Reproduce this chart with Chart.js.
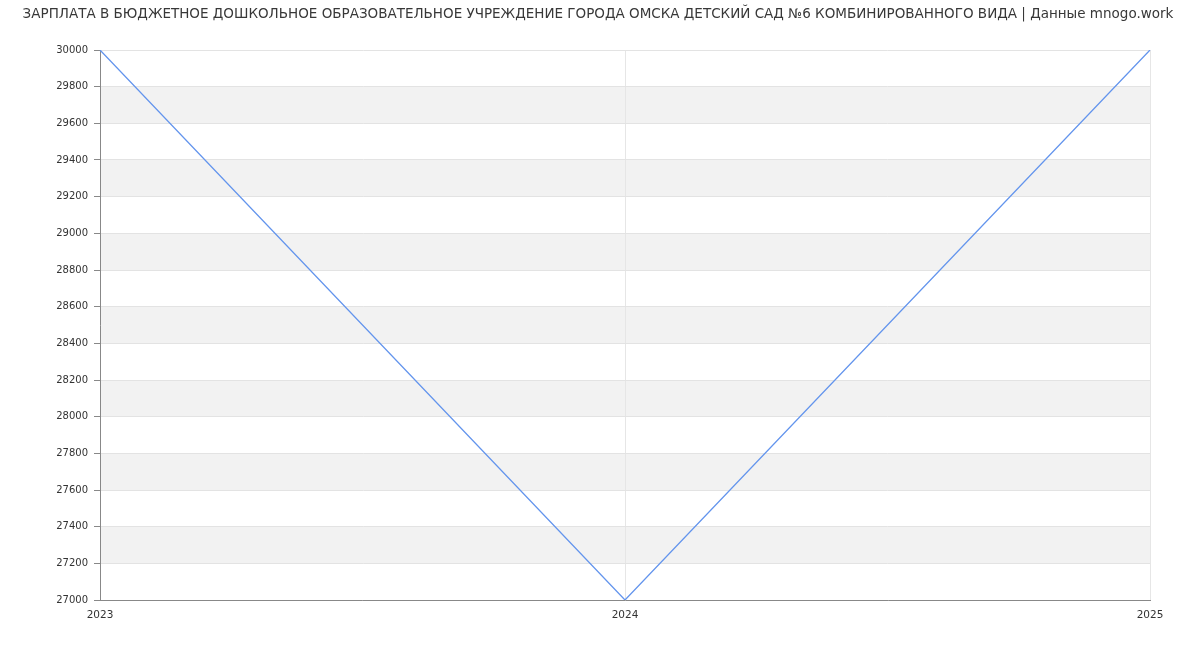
<!DOCTYPE html>
<html>
<head>
<meta charset="utf-8">
<script src="https://cdn.jsdelivr.net/npm/chart.js@4"></script>
<style>
  html, body { margin: 0; padding: 0; background: #fff; }
  #wrap { width: 1200px; height: 650px; }
</style>
</head>
<body>
<div id="wrap"><canvas id="salaryChart" width="1200" height="650"></canvas></div>
<script>
const titleText = 'ЗАРПЛАТА В БЮДЖЕТНОЕ ДОШКОЛЬНОЕ ОБРАЗОВАТЕЛЬНОЕ УЧРЕЖДЕНИЕ ГОРОДА ОМСКА ДЕТСКИЙ САД №6 КОМБИНИРОВАННОГО ВИДА | Данные mnogo.work';
const years = ['2023', '2024', '2025'];
const salaries = [30000, 27000, 30000];
const yMin = 27000;
const yMax = 30000;
const yStep = 200;

// полосы через одну + заголовок
const bandsPlugin = {
    id: 'bands',
    beforeDraw(chart) {
        const { ctx, chartArea, scales } = chart;
        ctx.save();
        ctx.fillStyle = '#f2f2f2';
        for (let v = yMin + yStep; v < yMax; v += yStep * 2) {
            const top = scales.y.getPixelForValue(v + yStep);
            const bottom = scales.y.getPixelForValue(v);
            ctx.fillRect(chartArea.left, top, chartArea.right - chartArea.left, bottom - top);
        }
        ctx.restore();
    },
    afterDraw(chart) {
        const ctx = chart.ctx;
        ctx.save();
        ctx.font = '13.5px "DejaVu Sans"';
        ctx.fillStyle = '#383838';
        ctx.textAlign = 'center';
        ctx.textBaseline = 'middle';
        ctx.fillText(titleText, 598, 14);
        ctx.restore();
    }
};

const ctx = document.getElementById('salaryChart').getContext('2d');
const salaryChart = new Chart(ctx, {
    type: 'line',
    data: {
        labels: years,
        datasets: [{
            data: salaries,
            borderColor: '#6495ed',
            borderWidth: 1.3,
            pointRadius: 0,
            tension: 0,
            fill: false
        }]
    },
    options: {
        responsive: false,
        animation: false,
        layout: { padding: { top: 50, right: 50, left: 0, bottom: 0 } },
        plugins: {
            legend: { display: false },
            tooltip: { enabled: false }
        },
        scales: {
            x: {
                offset: false,
                afterFit(scale) { scale.height = 50; },
                grid: { color: '#e6e6e6', drawTicks: false },
                border: { color: '#888' },
                ticks: {
                    color: '#333',
                    font: { family: 'DejaVu Sans', size: 10.5 },
                    padding: 9,
                    maxRotation: 0
                }
            },
            y: {
                min: yMin,
                max: yMax,
                afterFit(scale) { scale.width = 100; },
                grid: { color: '#e3e3e3', tickLength: 6, tickColor: '#888' },
                border: { color: '#888' },
                ticks: {
                    stepSize: yStep,
                    color: '#333',
                    font: { family: 'DejaVu Sans', size: 10 },
                    padding: 6,
                    callback: (value) => String(value)
                }
            }
        }
    },
    plugins: [bandsPlugin]
});
</script>
</body>
</html>
